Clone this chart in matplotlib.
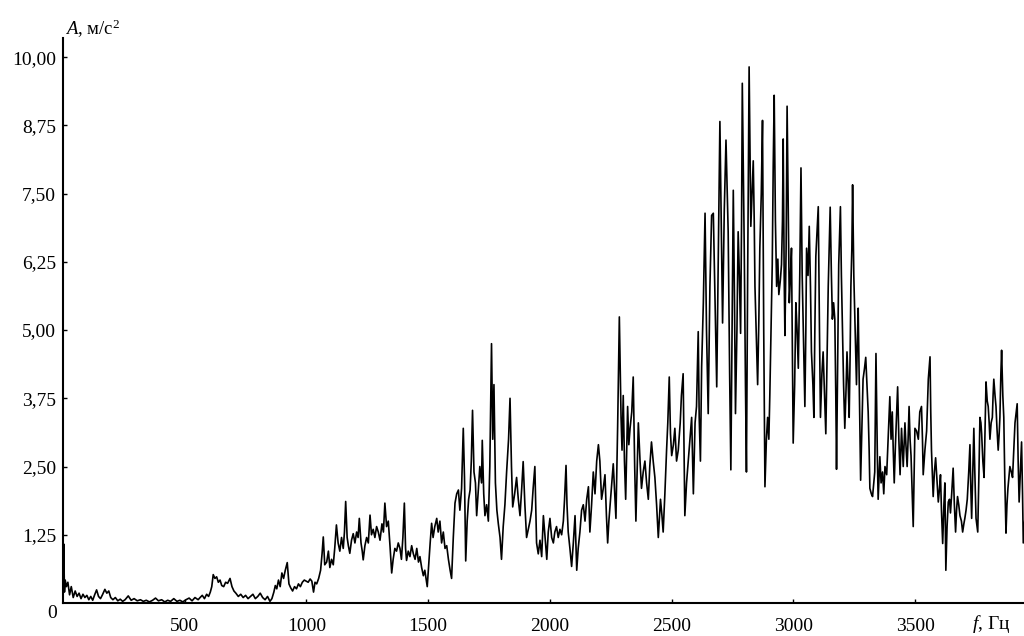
import numpy as np
import matplotlib.pyplot as plt
from matplotlib.ticker import FuncFormatter


# (частота, Гц ; амплитуда, м/с2), band by band
band_low = [
    (0, 0.3), (3, 1.08), (6, 0.2), (9, 0.42), (14, 0.3), (20, 0.38), (27, 0.15), (34, 0.3), (42, 0.1),
    (50, 0.22), (58, 0.12), (66, 0.18), (74, 0.08), (82, 0.16), (90, 0.1), (98, 0.14), (106, 0.06),
    (114, 0.12), (122, 0.05), (130, 0.15), (138, 0.24), (146, 0.12), (154, 0.08), (162, 0.15),
    (172, 0.25), (180, 0.18), (188, 0.22), (196, 0.1), (205, 0.06), (215, 0.1), (225, 0.04),
    (235, 0.07), (245, 0.03), (255, 0.06), (268, 0.13), (280, 0.05), (292, 0.08), (305, 0.04),
    (318, 0.06), (330, 0.03), (342, 0.05), (355, 0.02), (368, 0.05), (380, 0.09), (392, 0.04),
    (405, 0.06), (418, 0.02), (430, 0.05), (442, 0.03), (455, 0.08), (468, 0.03), (480, 0.05),
    (492, 0.02), (505, 0.06), (518, 0.09), (530, 0.04), (542, 0.1), (555, 0.06), (563, 0.1),
    (572, 0.14), (581, 0.08), (590, 0.16), (598, 0.12), (605, 0.2), (611, 0.3), (617, 0.52),
    (624, 0.45), (631, 0.48), (638, 0.38), (645, 0.42), (652, 0.32), (660, 0.3), (668, 0.38),
    (676, 0.36), (686, 0.45), (694, 0.3), (702, 0.22), (710, 0.18), (720, 0.12), (730, 0.16),
    (740, 0.1), (750, 0.14), (760, 0.08), (770, 0.12), (780, 0.16), (790, 0.08), (800, 0.12),
    (810, 0.18), (820, 0.1), (830, 0.06), (840, 0.12), (850, 0.03), (858, 0.08), (866, 0.2),
    (872, 0.32), (878, 0.26), (885, 0.42), (892, 0.3), (899, 0.55), (906, 0.45), (913, 0.6),
    (921, 0.74), (928, 0.35), (935, 0.28), (943, 0.22), (951, 0.3), (959, 0.26), (967, 0.35),
    (975, 0.3), (983, 0.38), (991, 0.42), (999, 0.4), (1007, 0.38), (1015, 0.44), (1022, 0.4),
    (1029, 0.2), (1035, 0.38),
]

band_mid = [
    (1042, 0.35), (1050, 0.45), (1058, 0.6), (1064, 0.9), (1069, 1.21), (1075, 0.7), (1083, 0.75),
    (1090, 0.95), (1096, 0.65), (1103, 0.8), (1110, 0.7), (1116, 1.0), (1123, 1.43), (1130, 1.1),
    (1137, 0.95), (1144, 1.2), (1151, 1.0), (1156, 1.3), (1161, 1.86), (1167, 1.2), (1172, 1.05),
    (1178, 0.91), (1185, 1.15), (1192, 1.27), (1199, 1.1), (1206, 1.3), (1212, 1.2), (1217, 1.55),
    (1224, 1.1), (1229, 0.95), (1233, 0.79), (1240, 1.05), (1247, 1.2), (1254, 1.1), (1261, 1.61),
    (1267, 1.25), (1274, 1.35), (1281, 1.2), (1288, 1.4), (1295, 1.3), (1302, 1.15), (1310, 1.45),
    (1316, 1.3), (1322, 1.83), (1329, 1.4), (1336, 1.5), (1343, 1.05), (1350, 0.55), (1356, 0.8),
    (1363, 1.0), (1370, 0.95), (1377, 1.1), (1384, 1.0), (1390, 0.8), (1396, 1.2), (1402, 1.83),
    (1407, 1.0), (1411, 0.78), (1418, 0.95), (1425, 0.85), (1432, 1.05), (1439, 0.9), (1446, 0.8),
    (1453, 1.0), (1460, 0.75), (1466, 0.85), (1473, 0.65), (1480, 0.5), (1486, 0.6), (1491, 0.45),
    (1496, 0.3), (1502, 0.7), (1508, 1.1), (1514, 1.46), (1520, 1.2), (1527, 1.4), (1535, 1.55),
    (1541, 1.3), (1548, 1.5), (1555, 1.1), (1562, 1.3), (1569, 1.0), (1576, 1.05), (1583, 0.8),
    (1590, 0.6), (1596, 0.45), (1603, 1.2), (1610, 1.83), (1617, 2.0), (1624, 2.07), (1630, 1.7),
    (1637, 2.1), (1644, 3.2), (1649, 2.3), (1654, 0.77), (1660, 1.5), (1666, 1.9), (1672, 2.07),
    (1677, 2.6), (1682, 3.53), (1688, 2.4), (1694, 2.2), (1699, 1.6), (1706, 2.1), (1712, 2.5),
    (1719, 2.2), (1722, 2.98), (1728, 2.0), (1733, 1.6), (1740, 1.8), (1747, 1.5), (1753, 2.5),
    (1760, 4.75), (1765, 3.0), (1770, 4.0), (1776, 2.2), (1782, 1.7), (1788, 1.45), (1795, 1.2),
    (1801, 0.8), (1808, 1.4), (1815, 1.8), (1822, 2.4), (1830, 3.0), (1836, 3.75), (1842, 2.5),
    (1847, 1.76), (1855, 2.0), (1863, 2.3), (1870, 1.9), (1877, 1.6), (1884, 2.1), (1890, 2.59),
    (1897, 1.8), (1904, 1.2), (1911, 1.35), (1918, 1.5), (1925, 1.7), (1931, 2.1), (1938, 2.5),
    (1945, 1.1),
]

band_rise = [
    (1952, 0.9), (1959, 1.15), (1966, 0.85), (1973, 1.6), (1980, 1.2), (1987, 0.8), (1993, 1.3),
    (2000, 1.55), (2007, 1.2), (2014, 1.1), (2020, 1.3), (2027, 1.4), (2034, 1.2), (2041, 1.35),
    (2048, 1.25), (2055, 1.5), (2060, 1.9), (2066, 2.52), (2070, 1.8), (2075, 1.3), (2082, 1.0),
    (2089, 0.67), (2096, 1.1), (2103, 1.6), (2110, 0.6), (2116, 1.0), (2123, 1.3), (2130, 1.7),
    (2137, 1.8), (2144, 1.5), (2151, 1.9), (2158, 2.13), (2164, 1.3), (2171, 1.8), (2178, 2.4),
    (2185, 2.0), (2192, 2.6), (2199, 2.9), (2205, 2.6), (2212, 1.9), (2219, 2.1), (2226, 2.35),
    (2232, 1.6), (2237, 1.1), (2242, 1.5), (2247, 1.8), (2254, 2.2), (2260, 2.55), (2266, 2.0),
    (2271, 1.55), (2278, 3.23), (2285, 5.24), (2292, 3.4), (2296, 2.8), (2301, 3.8), (2306, 2.6),
    (2311, 1.9), (2319, 3.6), (2324, 2.9), (2329, 3.2), (2336, 3.5), (2342, 4.14), (2348, 2.5),
    (2353, 1.5), (2358, 2.4), (2363, 3.3), (2370, 2.6), (2376, 2.1), (2383, 2.4), (2390, 2.6),
    (2397, 2.2), (2404, 1.9), (2410, 2.5), (2417, 2.95), (2424, 2.6), (2431, 2.3), (2438, 1.8),
    (2445, 1.2), (2450, 1.6), (2454, 1.9), (2460, 1.6), (2465, 1.3), (2472, 2.0), (2479, 2.8),
    (2484, 3.3), (2490, 4.14), (2495, 3.1), (2500, 2.7), (2507, 2.9), (2513, 3.2), (2520, 2.6),
    (2527, 2.8), (2535, 3.3), (2540, 3.8), (2547, 4.2), (2551, 2.7), (2554, 1.6), (2561, 2.2),
    (2568, 2.6), (2575, 3.0), (2582, 3.4), (2589, 2.0), (2596, 3.3), (2602, 3.6), (2609, 4.97),
]

band_peak = [
    (2613, 3.4), (2618, 2.6), (2623, 4.33), (2630, 5.5), (2637, 7.14), (2643, 5.0), (2650, 3.47),
    (2657, 5.8), (2664, 7.1), (2671, 7.14), (2678, 5.6), (2685, 3.96), (2692, 6.5), (2698, 8.82),
    (2704, 6.8), (2709, 5.13), (2716, 7.2), (2723, 8.48), (2728, 7.5), (2732, 6.8), (2738, 4.2),
    (2743, 2.44), (2748, 5.0), (2753, 7.56), (2758, 5.5), (2762, 3.47), (2768, 5.0), (2773, 6.8),
    (2778, 6.0), (2783, 4.94), (2787, 7.0), (2790, 9.52), (2794, 8.0), (2798, 6.5), (2803, 4.0),
    (2807, 2.4), (2812, 6.0), (2818, 9.82), (2822, 8.2), (2825, 6.9), (2830, 7.5), (2835, 8.1),
    (2839, 7.0), (2842, 5.8), (2848, 4.8), (2853, 4.0), (2858, 5.2), (2862, 6.5), (2868, 7.5),
    (2873, 8.84), (2878, 5.0), (2883, 2.13), (2889, 3.0), (2894, 3.4), (2899, 3.0), (2903, 3.8),
    (2908, 5.0), (2913, 6.2), (2917, 8.0), (2921, 9.3), (2926, 7.0), (2931, 5.8), (2936, 6.3),
    (2940, 5.65), (2946, 5.9), (2951, 6.2), (2955, 7.0), (2958, 8.5), (2962, 6.0), (2965, 4.9),
    (2970, 6.5), (2974, 9.1), (2979, 7.0), (2983, 5.5), (2988, 6.0), (2992, 6.5), (2996, 4.5),
    (2999, 2.93), (3005, 4.0), (3010, 5.5), (3015, 5.0), (3020, 4.3), (3026, 6.0), (3031, 7.97),
    (3036, 6.0), (3040, 5.1), (3044, 4.2), (3047, 3.6), (3051, 5.0), (3054, 6.5), (3060, 6.0),
    (3065, 6.9), (3070, 5.8), (3074, 4.6), (3080, 4.0), (3084, 3.4), (3088, 5.0), (3092, 6.35),
    (3097, 6.8), (3102, 7.26), (3107, 5.0), (3111, 3.4), (3117, 4.2), (3122, 4.6), (3128, 3.8),
    (3133, 3.1), (3138, 4.5), (3143, 5.8), (3147, 6.5), (3151, 7.25), (3156, 6.0), (3160, 5.2),
    (3165, 5.5), (3170, 5.2), (3174, 3.8), (3177, 2.45), (3182, 4.5), (3186, 6.2), (3190, 6.8),
    (3193, 7.26), (3197, 6.0), (3201, 5.1), (3206, 4.0), (3211, 3.2), (3216, 3.9), (3220, 4.6),
    (3225, 4.0), (3229, 3.4), (3233, 4.6), (3236, 5.8), (3240, 6.5), (3243, 7.66), (3248, 6.0),
    (3252, 5.3), (3256, 4.6), (3259, 4.0), (3262, 4.7), (3266, 5.4), (3271, 3.8), (3276, 2.25),
    (3281, 3.2), (3286, 4.1), (3292, 4.3), (3297, 4.5), (3302, 4.0), (3307, 3.5), (3311, 2.8),
    (3314, 2.1), (3320, 2.0), (3325, 1.95), (3330, 2.2), (3334, 2.4), (3339, 4.57), (3345, 2.6),
    (3348, 1.9),
]

band_tail = [
    (3355, 2.68), (3360, 2.2), (3366, 2.4), (3371, 2.0), (3376, 2.5), (3383, 2.35), (3389, 3.0),
    (3396, 3.78), (3401, 3.0), (3406, 3.5), (3410, 2.8), (3414, 2.2), (3419, 2.9), (3424, 3.5),
    (3428, 3.96), (3433, 3.0), (3438, 2.35), (3444, 3.2), (3451, 2.5), (3458, 3.3), (3462, 2.9),
    (3467, 2.5), (3471, 3.0), (3475, 3.6), (3479, 3.0), (3483, 2.7), (3488, 2.0), (3492, 1.4),
    (3496, 2.5), (3499, 3.2), (3506, 3.15), (3513, 3.0), (3519, 3.5), (3526, 3.6), (3530, 3.0),
    (3533, 2.35), (3540, 2.8), (3547, 3.15), (3554, 4.1), (3561, 4.51), (3564, 3.5), (3567, 2.8),
    (3574, 1.95), (3579, 2.4), (3584, 2.66), (3590, 2.2), (3595, 1.85), (3600, 2.1), (3604, 2.35),
    (3608, 1.7), (3613, 1.09), (3618, 1.8), (3622, 2.2), (3626, 0.6), (3631, 1.4), (3636, 1.85),
    (3641, 1.9), (3645, 1.65), (3650, 2.0), (3656, 2.47), (3661, 1.8), (3666, 1.3), (3670, 1.7),
    (3674, 1.95), (3679, 1.8), (3684, 1.6), (3690, 1.5), (3695, 1.3), (3700, 1.45), (3704, 1.55),
    (3709, 1.7), (3714, 1.9), (3720, 2.4), (3725, 2.9), (3728, 2.2), (3732, 1.55), (3737, 2.5),
    (3741, 3.2), (3745, 2.4), (3750, 1.55), (3754, 1.4), (3757, 1.3), (3762, 2.4), (3766, 3.4),
    (3770, 3.3), (3773, 3.1), (3778, 2.6), (3783, 2.3), (3787, 3.2), (3791, 4.05), (3796, 3.7),
    (3800, 3.6), (3804, 3.3), (3807, 3.0), (3812, 3.3), (3817, 3.4), (3820, 3.8), (3823, 4.1),
    (3828, 3.8), (3832, 3.6), (3836, 3.2), (3841, 2.8), (3845, 3.1), (3848, 3.4), (3852, 4.2),
    (3855, 4.63), (3860, 3.8), (3864, 3.4), (3868, 2.3), (3873, 1.28), (3877, 1.8), (3881, 2.1),
    (3885, 2.3), (3889, 2.5), (3895, 2.4), (3900, 2.3), (3905, 2.8), (3910, 3.3), (3915, 3.5),
    (3919, 3.65), (3923, 2.6), (3927, 1.85), (3932, 2.4), (3937, 2.95), (3941, 2.0), (3944, 1.1),
    (3950, 1.5),
]

x_ticks = [500, 1000, 1500, 2000, 2500, 3000, 3500]
y_ticks = [1.25, 2.5, 3.75, 5.0, 6.25, 7.5, 8.75, 10.0]


def comma(v, pos):
    return f"{v:.2f}".replace('.', ',')


plt.rcParams['font.family'] = ['Liberation Serif', 'DejaVu Serif']
plt.rcParams['mathtext.fontset'] = 'custom'
plt.rcParams['mathtext.rm'] = 'Liberation Serif'
plt.rcParams['mathtext.it'] = 'Liberation Serif:italic'

points = band_low + band_mid + band_rise + band_peak + band_tail
freq = np.array([p[0] for p in points])
amp = np.array([p[1] for p in points])

fig = plt.figure(figsize=(10.24, 6.36), dpi=100)
ax = fig.add_axes([63 / 1024, 33 / 636, 961 / 1024, 565 / 636])

ax.plot(freq, amp, color='black', linewidth=1.2)

ax.set_xlim(0, 3947)
ax.set_ylim(0, 10.35)
ax.set_xticks(x_ticks)
ax.set_yticks(y_ticks)
ax.yaxis.set_major_formatter(FuncFormatter(comma))

ax.spines['top'].set_visible(False)
ax.spines['right'].set_visible(False)
ax.spines['left'].set_linewidth(1.5)
ax.spines['bottom'].set_linewidth(1.5)
ax.tick_params(direction='in', length=3, width=1, labelsize=14)
ax.tick_params(axis='x', pad=11)
ax.tick_params(axis='y', pad=5)

# zero label sits a bit below the origin
ax.annotate('0', xy=(0, 0), xycoords='axes fraction', xytext=(-6, -11),
            textcoords='offset pixels', ha='right', va='center', fontsize=14)

fig.text(65 / 1024, 1 - 35 / 636, r'$A$, м/с$^{2}$', fontsize=13.5, va='baseline')
fig.text(972 / 1024, 1 - 629 / 636, r'$f$, Гц', fontsize=14, va='baseline')

fig.savefig('out.png', dpi=100)
